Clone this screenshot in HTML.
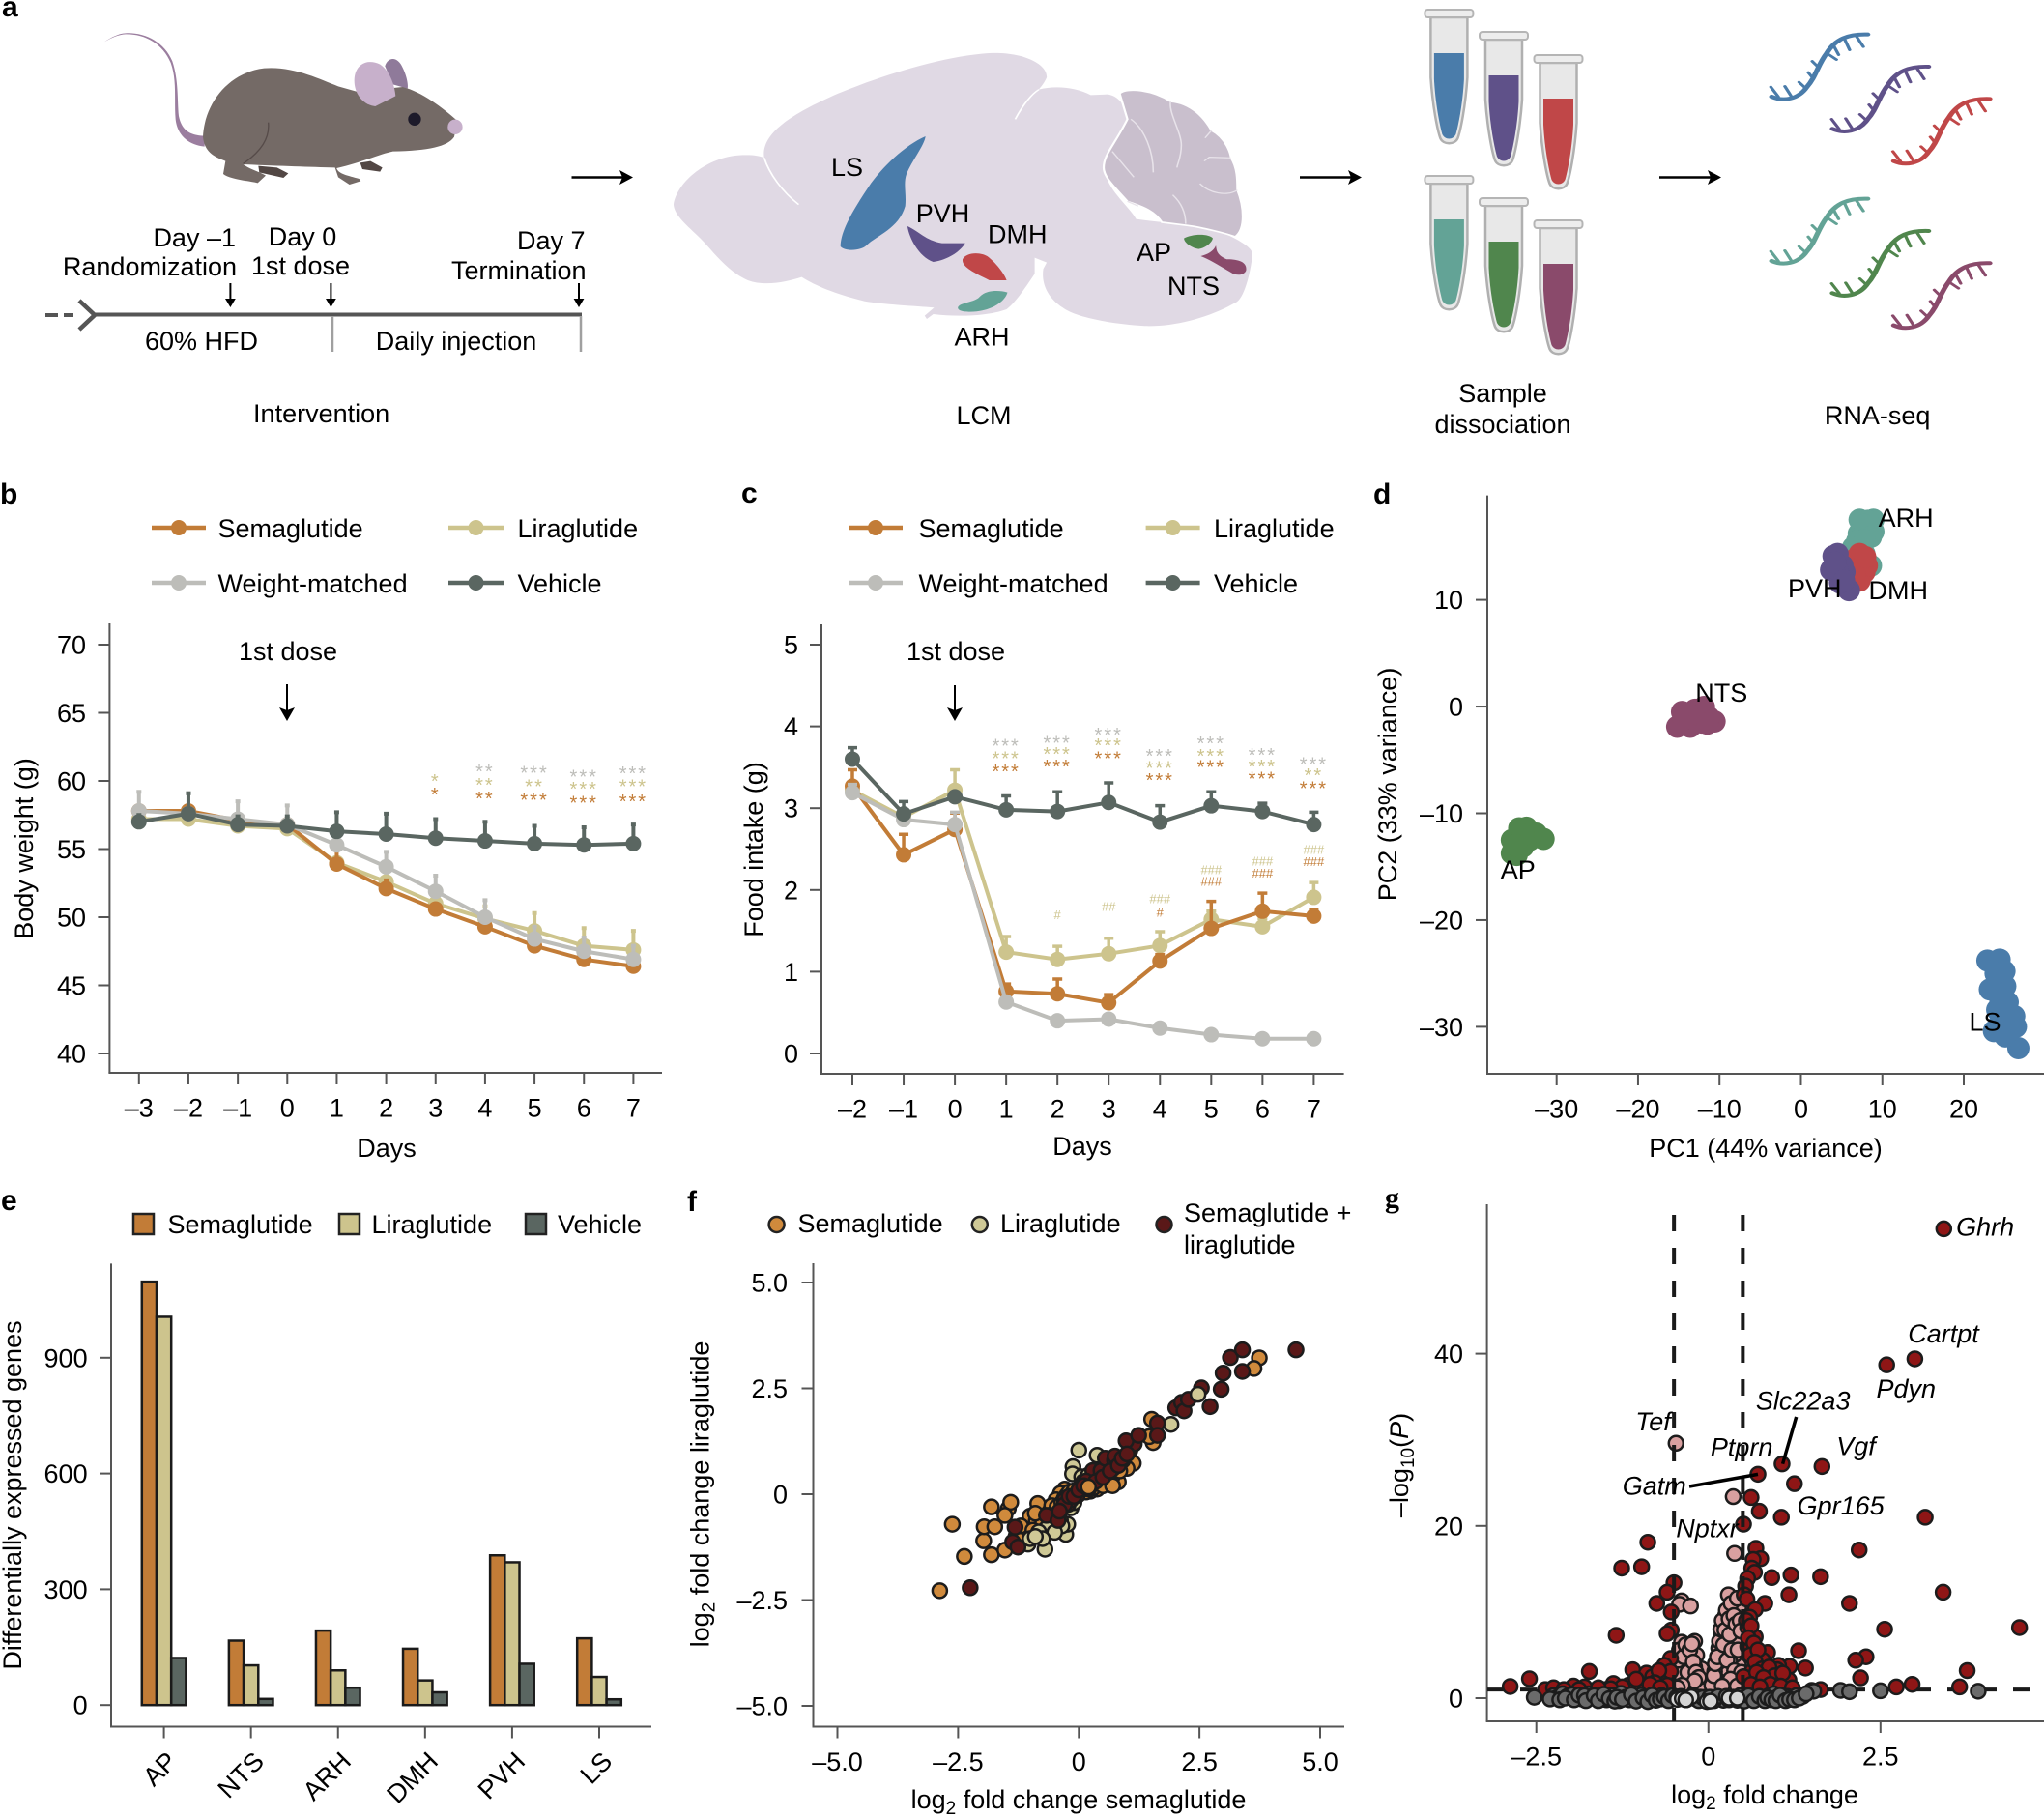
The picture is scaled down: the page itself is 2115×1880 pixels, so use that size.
<!DOCTYPE html>
<html lang="en">
<head>
<meta charset="utf-8">
<title>Semaglutide and liraglutide multi-panel figure</title>
<style>
html,body{margin:0;padding:0;background:#fff;width:2115px;height:1880px;overflow:hidden}
svg{display:block;font-family:"Liberation Sans",sans-serif;font-size:27px;fill:#000}
.pl{font-weight:bold;font-size:30px}
</style>
</head>
<body>
<svg id="figure" xmlns="http://www.w3.org/2000/svg" width="2115" height="1880" viewBox="0 0 2115 1880">
<defs>
  <g id="tube">
    <path d="M-19,8 L-19,70 C-17,100 -12,125 -9,133 C-6,140 6,140 9,133 C12,125 17,100 19,70 L19,8Z" fill="#E8E8E8" stroke="#B0B0B0" stroke-width="2.5"/>
    <path d="M-15.5,45 L15.5,45 L15.5,72 C14,100 9,122 7,129 C4,135 -4,135 -7,129 C-9,122 -14,100 -15.5,72Z" fill="currentColor"/>
    <rect x="-25" y="0" width="50" height="8" rx="3" fill="#EDEDED" stroke="#B5B5B5" stroke-width="2"/>
  </g>
  <g id="rna" fill="none" stroke="currentColor" stroke-linecap="round">
    <path stroke-width="12" d="M950,300 C975,315 1010,310 1030,270 C1050,240 1055,200 1075,165 C1095,120 1125,105 1168,107"/>
    <path stroke-width="7.5" d="M965,300L948,270M995,300L980,268M1028,275L1012,255M1045,245L1033,225M1057,210L1042,190M1075,165L1097,185M1090,140L1102,170M1115,120L1127,155M1140,108L1158,145"/>
  </g>
</defs>

<!-- panel a -->
<text class="pl" x="2" y="17">a</text>
<g transform="translate(130,0) scale(0.3333)">
  <path fill="#9B7E9F" d="M-66,130 C-40,112 -15,103 0,103 C60,100 120,130 145,190 C165,250 160,310 165,360 C175,410 205,420 245,422 L245,455 C195,450 160,420 155,370 C150,310 160,250 140,195 C115,135 60,105 0,106 C-15,106 -40,114 -66,130Z"/>
  <path fill="#8F7A9A" d="M805,205 C815,175 845,175 860,210 C875,240 878,270 875,275 L830,262Z"/>
  <path fill="#524744" d="M412,515 L470,520 L505,538 L490,552 L415,535Z M728,505 L760,500 L797,520 L790,533 L735,525Z"/>
  <path fill="#746A66" d="M240,425 C245,320 320,225 430,212 C520,205 600,245 660,268 L720,285 L860,270 C920,285 985,335 1030,375 L1020,425 C1000,455 940,468 830,470 C790,478 730,505 655,522 C660,540 690,545 725,555 L730,562 L695,573 L660,550 L650,520 C570,518 480,515 365,510 C385,525 410,530 435,545 L410,568 C370,560 320,555 303,540 L310,500 C270,485 245,470 240,425Z"/>
  <path fill="none" stroke="#564B49" stroke-width="4" d="M443,380 C448,430 420,470 365,508"/>
  <path fill="#C7B0CB" d="M710,250 C710,200 750,180 790,200 C825,225 835,270 838,298 L775,330 C735,325 710,290 710,250Z"/>
  <circle cx="897" cy="370" r="20" fill="#1D1A2A"/>
  <circle cx="1023" cy="394" r="23" fill="#C7B0CB"/>
</g>
<g fill="none">
  <path d="M47,326H76" stroke="#555" stroke-width="4" stroke-dasharray="13 6"/>
  <path d="M82,311L98,326L82,341" stroke="#555" stroke-width="4.5"/>
  <path d="M98,325.500H602" stroke="#555" stroke-width="4"/>
  <path d="M344,327V364M601,327V364" stroke="#A0A0A0" stroke-width="2.5"/>
</g>
<g stroke="#000" stroke-width="2" fill="#000">
  <path d="M238.400,293V312" fill="none"/><path stroke="none" d="M233,309L238.400,318L243.800,309Z"/>
  <path d="M342.400,293V312" fill="none"/><path stroke="none" d="M337,309L342.400,318L347.800,309Z"/>
  <path d="M599,293V312" fill="none"/><path stroke="none" d="M593.600,309L599,318L604.400,309Z"/>
</g>
<text x="244" y="255" text-anchor="end">Day –1</text>
<text x="245" y="285" text-anchor="end">Randomization</text>
<text x="313" y="254" text-anchor="middle">Day 0</text>
<text x="311" y="284" text-anchor="middle">1st dose</text>
<text x="605.500" y="258" text-anchor="end">Day 7</text>
<text x="606.500" y="289" text-anchor="end">Termination</text>
<text x="208.500" y="362" text-anchor="middle">60% HFD</text>
<text x="472" y="362" text-anchor="middle">Daily injection</text>
<text x="332.600" y="437" text-anchor="middle">Intervention</text>

<g>
  <path d="M591.500,183.500H645" stroke="#000" stroke-width="2.5"/><path d="M641,176L655,183.500L641,191L644,183.500Z"/>
  <path d="M1345,183.500H1399" stroke="#000" stroke-width="2.5"/><path d="M1395,176L1409,183.500L1395,191L1398,183.500Z"/>
  <path d="M1717,183.500H1771" stroke="#000" stroke-width="2.5"/><path d="M1767,176L1781,183.500L1767,191L1770,183.500Z"/>
</g>

<g transform="translate(680,0) scale(0.4464,0.3333)">
  <path fill="#E0D9E4" d="M38,635 C45,570 110,490 190,482 C215,480 235,482 248,490 C240,420 300,360 420,290 C520,235 660,175 770,165 C850,160 905,200 903,240 C895,265 885,275 885,278 C920,265 970,270 1005,295 L1045,293 C1075,300 1090,340 1092,380 C1090,430 1040,500 1040,540 C1045,590 1100,650 1110,680 C1160,690 1260,700 1300,715 C1340,740 1380,765 1380,790 C1375,850 1360,930 1340,940 C1280,985 1200,1015 1130,1012 C1050,1005 970,985 940,955 C905,925 890,880 895,835 L903,815 L875,800 L875,850 C850,900 830,940 810,960 C770,980 700,985 640,975 L625,990 L620,980 L642,955 C600,950 520,945 480,935 C420,915 370,890 335,860 C300,875 250,890 210,870 C160,840 130,780 100,740 C70,700 40,670 38,635Z"/>
  <path fill="none" stroke="#fff" stroke-width="4" d="M248,490 C260,540 290,595 328,635 M830,370 C850,320 870,290 885,278"/>
  <path fill="#C9BFCD" stroke="#fff" stroke-width="5" d="M1072,290 C1090,270 1150,280 1190,315 C1240,320 1270,370 1285,405 C1320,430 1330,480 1330,490 C1345,520 1345,560 1345,590 C1360,640 1365,710 1340,735 C1320,725 1260,705 1230,700 L1170,690 C1150,650 1120,640 1090,625 C1060,580 1035,550 1035,520 C1035,480 1060,450 1090,370Z"/>
  <path fill="none" stroke="#E8E3EA" stroke-width="3.500" d="M1098,370 C1130,400 1150,470 1150,535 M1190,315 C1185,350 1215,410 1215,450 C1215,490 1205,510 1205,520 M1285,405 L1270,428 M1330,490 L1280,488 L1268,500 M1258,570 C1280,600 1320,610 1345,590 M1055,470 L1105,550 M1195,605 C1215,630 1225,660 1225,695 M1090,625 L1115,640"/>
  <path fill="#4A7CAA" d="M622,423 C575,450 520,520 490,580 C450,660 425,720 425,765 C435,780 470,780 485,762 C510,730 560,710 575,640 C578,600 570,570 578,540 C590,500 620,450 622,423Z"/>
  <path fill="#5F5189" d="M580,702 C610,720 620,745 660,755 L714,755 C705,775 680,805 640,813 C610,800 585,745 580,702Z"/>
  <path fill="#C04748" d="M708,805 C715,785 745,780 765,795 C785,815 805,850 810,870 L770,870 C740,850 705,830 708,805Z"/>
  <path fill="#63A396" d="M697,955 C700,940 730,940 745,925 C760,900 790,900 812,908 C805,940 770,968 725,968 C710,968 697,965 697,955Z"/>
  <path fill="#50864D" d="M1221,740 C1240,725 1280,725 1288,740 C1285,755 1270,770 1255,773 C1240,770 1222,755 1221,740Z"/>
  <path fill="#8A4A6B" d="M1295,762 C1297,775 1295,790 1320,805 C1350,805 1368,815 1365,840 C1360,855 1345,855 1335,850 C1310,830 1280,805 1260,795 C1275,790 1290,780 1295,762Z"/>
</g>
<text x="860" y="182">LS</text>
<text x="947.700" y="230">PVH</text>
<text x="1022" y="251.700">DMH</text>
<text x="1176" y="270">AP</text>
<text x="1208" y="305">NTS</text>
<text x="987.500" y="357.700">ARH</text>
<text x="989.500" y="439">LCM</text>

<use href="#tube" transform="translate(1499.400,10)" color="#4A7CAA"/>
<use href="#tube" transform="translate(1556,33)" color="#5F5189"/>
<use href="#tube" transform="translate(1612.500,57)" color="#C04748"/>
<use href="#tube" transform="translate(1499.400,182)" color="#63A396"/>
<use href="#tube" transform="translate(1556,205)" color="#50864D"/>
<use href="#tube" transform="translate(1612.500,228)" color="#8A4A6B"/>
<text x="1555" y="416" text-anchor="middle">Sample</text>
<text x="1555" y="448" text-anchor="middle">dissociation</text>

<g transform="translate(1400,0) scale(0.456,0.3333)">
  <use href="#rna" color="#4A7CAA"/>
  <use href="#rna" transform="translate(138,100)" color="#5F5189"/>
  <use href="#rna" transform="translate(277,200)" color="#C04748"/>
  <use href="#rna" transform="translate(0,510)" color="#63A396"/>
  <use href="#rna" transform="translate(138,610)" color="#50864D"/>
  <use href="#rna" transform="translate(277,710)" color="#8A4A6B"/>
</g>
<text x="1942.600" y="439" text-anchor="middle">RNA-seq</text>

<!-- panel labels -->
<text class="pl" x="0" y="521">b</text>
<text class="pl" x="767" y="520">c</text>
<text class="pl" x="1421" y="521">d</text>
<text class="pl" x="1" y="1252">e</text>
<text class="pl" x="711" y="1253">f</text>
<text class="pl" x="1433" y="1249" style="font-family:'Liberation Serif',serif">g</text>

<!-- fixed chart titles -->
<text x="400" y="1197" text-anchor="middle">Days</text>
<text transform="translate(34,878) rotate(-90)" text-anchor="middle">Body weight (g)</text>
<text x="298" y="683" text-anchor="middle">1st dose</text>
<path d="M297,708V735" stroke="#000" stroke-width="2"/>
<path d="M289,732L297,746L305,732L297,735Z"/>

<text x="1120" y="1195" text-anchor="middle">Days</text>
<text transform="translate(789,879) rotate(-90)" text-anchor="middle">Food intake (g)</text>
<text x="989" y="683" text-anchor="middle">1st dose</text>
<path d="M988,709V735" stroke="#000" stroke-width="2"/>
<path d="M980,732L988,746L996,732L988,735Z"/>

<text x="1827" y="1197" text-anchor="middle">PC1 (44% variance)</text>
<text transform="translate(1445,811.500) rotate(-90)" text-anchor="middle">PC2 (33% variance)</text>

<text transform="translate(22,1547) rotate(-90)" text-anchor="middle">Differentially expressed genes</text>

<text x="1116" y="1871" text-anchor="middle">log<tspan font-size="19" dy="6">2</tspan><tspan dy="-6"> fold change semaglutide</tspan></text>
<text transform="translate(733.500,1546) rotate(-90)" text-anchor="middle">log<tspan font-size="19" dy="6">2</tspan><tspan dy="-6"> fold change liraglutide</tspan></text>
<text x="825.500" y="1275">Semaglutide</text>
<text x="1035" y="1275">Liraglutide</text>
<text x="1225" y="1264">Semaglutide +</text>
<text x="1225" y="1297">liraglutide</text>
<circle cx="803.600" cy="1267" r="8" fill="#D08A3C" stroke="#222" stroke-width="2.500"/>
<circle cx="1013.800" cy="1267" r="8" fill="#CFC996" stroke="#222" stroke-width="2.500"/>
<circle cx="1204.500" cy="1267" r="8" fill="#5A1818" stroke="#222" stroke-width="2.500"/>

<text x="1826" y="1866" text-anchor="middle">log<tspan font-size="19" dy="6">2</tspan><tspan dy="-6"> fold change</tspan></text>
<text transform="translate(1457,1516) rotate(-90)" text-anchor="middle">–log<tspan font-size="19" dy="6">10</tspan><tspan dy="-6">(</tspan><tspan font-style="italic">P</tspan>)</text>

<g id="charts"></g>
</svg>

<script>
// ---------- panel b data ----------
const bDays = [-3,-2,-1,0,1,2,3,4,5,6,7];
const bSemaglutide = [57.8,57.8,57.1,56.8,53.9,52.1,50.6,49.3,47.9,46.9,46.4];
const bLiraglutide = [57.2,57.2,56.7,56.5,54.0,52.6,51.0,49.9,49.0,47.9,47.6];
const bWeightMatched = [57.8,57.6,57.2,56.8,55.3,53.7,51.9,50.0,48.4,47.5,46.9];
const bVehicle = [57.0,57.6,56.8,56.7,56.3,56.1,55.8,55.6,55.4,55.3,55.4];
const bSemaglutideErr = [0.3,0.3,0.2,0.2,1.0,0.6,0.3,0.3,0.3,0.3,0.3];
const bLiraglutideErr = [0.5,0.5,0.5,0.5,0.3,0.8,0.9,0.9,1.3,1.3,1.4];
const bWeightMatchedErr = [1.4,1.5,1.3,1.4,0.4,1.1,1.15,1.25,0.9,1.0,1.0];
const bVehicleErr = [0.5,1.5,0.6,0.7,1.4,1.5,1.4,1.4,1.3,1.3,1.4];
const bXTicks = [-3,-2,-1,0,1,2,3,4,5,6,7];
const bXLabels = ['–3','–2','–1','0','1','2','3','4','5','6','7'];
const bYTicks = [40,45,50,55,60,65,70];
const bYLabels = ['40','45','50','55','60','65','70'];
const bSigDays = [3,4,5,6,7];
const bSigWeightCounts = [0,2,3,3,3];
const bSigWeightLevels = [0,61.0,60.9,60.6,60.85];
const bSigLiraCounts = [1,2,2,3,3];
const bSigLiraLevels = [60.3,60.0,59.9,59.7,59.9];
const bSigSemaCounts = [1,2,3,3,3];
const bSigSemaLevels = [59.3,59.0,58.9,58.7,58.8];

// ---------- panel c data ----------
const cDays = [-2,-1,0,1,2,3,4,5,6,7];
const cSemaglutide = [3.27,2.43,2.74,0.76,0.73,0.62,1.13,1.53,1.74,1.68];
const cLiraglutide = [3.22,2.89,3.22,1.24,1.15,1.22,1.32,1.64,1.55,1.91];
const cWeightMatched = [3.19,2.86,2.80,0.63,0.40,0.42,0.31,0.23,0.18,0.18];
const cVehicle = [3.60,2.93,3.14,2.98,2.96,3.07,2.83,3.03,2.96,2.80];
const cSemaglutideErr = [0.20,0.25,0.20,0.09,0.18,0.10,0.08,0.33,0.22,0.08];
const cLiraglutideErr = [0.05,0.05,0.25,0.19,0.16,0.19,0.17,0.10,0.10,0.18];
const cWeightMatchedErr = [0.10,0.03,0.15,0.03,0.03,0.03,0.03,0.03,0.03,0.03];
const cVehicleErr = [0.14,0.15,0.05,0.17,0.24,0.24,0.20,0.17,0.10,0.15];
const cXTicks = [-2,-1,0,1,2,3,4,5,6,7];
const cXLabels = ['–2','–1','0','1','2','3','4','5','6','7'];
const cYTicks = [0,1,2,3,4,5];
const cYLabels = ['0','1','2','3','4','5'];
const cSigDays = [1,2,3,4,5,6,7];
const cSigWeightCounts = [3,3,3,3,3,3,3];
const cSigWeightLevels = [3.81,3.85,3.95,3.69,3.84,3.70,3.59];
const cSigLiraCounts = [3,3,3,3,3,3,2];
const cSigLiraLevels = [3.66,3.71,3.82,3.54,3.69,3.56,3.45];
const cSigSemaCounts = [3,3,3,3,3,3,3];
const cSigSemaLevels = [3.50,3.56,3.66,3.39,3.55,3.41,3.29];
const cHashDays = [2,3,4,5,6,7];
const cHashLiraCounts = [1,2,3,3,3,3];
const cHashLiraLevels = [1.70,1.80,1.90,2.25,2.36,2.50];
const cHashSemaCounts = [0,0,1,3,3,3];
const cHashSemaLevels = [0,0,1.73,2.11,2.21,2.35];

// ---------- panel d data ----------
const dXTicks = [-30,-20,-10,0,10,20];
const dXLabels = ['–30','–20','–10','0','10','20'];
const dYTicks = [-30,-20,-10,0,10];
const dYLabels = ['–30','–20','–10','0','10'];
const dArh = [[7.2,17.5],[8.9,17.5],[8.9,16.4],[7.1,16.2],[6.4,14.9],[8.6,13.2],[7.8,14.3],[8.0,16.8],[7.5,15.5],[8.2,17.4],[7.8,17.0],[8.6,15.9],[6.9,15.5],[7.8,15.6]];
const dDmh = [[7.2,14.3],[7.8,12.6],[7.2,11.8],[6.4,13.7],[8.1,13.2],[7.4,13.2],[6.6,12.4],[7.9,14.0]];
const dPvh = [[4.0,14.1],[3.7,12.8],[5.35,12.6],[5.9,10.9],[4.8,11.6],[5.1,13.2],[4.5,14.3],[4.5,12.8],[4.2,13.5],[5.3,11.8]];
const dNts = [[-15.2,-1.9],[-13.6,-1.9],[-14.6,-0.5],[-11.9,-0.04],[-10.6,-1.4],[-12.2,-1.5],[-13.8,-1.1],[-13.0,-0.3],[-12.9,-1.3],[-11.3,-1.0],[-14.4,-1.2],[-12.4,-0.8],[-11.5,-1.6]];
const dAp = [[-35.5,-12.5],[-34.6,-11.4],[-33.7,-11.35],[-32.5,-11.9],[-31.6,-12.4],[-35.5,-13.75],[-34.1,-13.1],[-33.3,-12.5],[-34.5,-12.5],[-34.9,-13.9],[-33.1,-11.8],[-34.1,-12.0],[-35.0,-13.0]];
const dLs = [[22.9,-23.8],[24.4,-23.7],[24.5,-25],[25.1,-26.2],[23.2,-26.5],[25.4,-27.7],[26.2,-29],[26.4,-30],[26.7,-32],[23.7,-30.4],[25.1,-30.9],[24.8,-28.7],[24.5,-27.5],[24.2,-26],[24.3,-29.8],[23.9,-25],[25.3,-29],[25.8,-30.3],[25,-24.8],[24.1,-28.4]];

// ---------- panel e data ----------
const eCategories = ['AP','NTS','ARH','DMH','PVH','LS'];
const eSemaglutide = [1097,167,193,146,388,173];
const eLiraglutide = [1006,103,90,64,370,73];
const eVehicle = [122,16,45,33,107,15];
const eYTicks = [0,300,600,900];
const eYLabels = ['0','300','600','900'];

// ---------- panel f data ----------
const fXTicks = [-5,-2.5,0,2.5,5];
const fXLabels = ['–5.0','–2.5','0','2.5','5.0'];
const fYTicks = [-5,-2.5,0,2.5,5];
const fYLabels = ['–5.0','–2.5','0','2.5','5.0'];
const fSemaglutide = [[-2.88,-2.28],[-2.62,-0.71],[-2.37,-1.47],[-1.97,-1.10],[-1.96,-0.77],[-1.74,-0.77],[-1.81,-1.43],[-1.81,-0.30],[-1.46,-0.34],[-1.41,-0.19],[-1.53,-0.50],[-1.53,-1.32],[-1.10,-0.76],[-1.01,-0.52],[-0.85,-0.22],[-0.88,-0.63],[-1.19,-0.96],[3.74,3.22],[3.63,2.97],[1.54,1.22],[1.46,1.36],[1.51,1.77],[1.13,0.73],[1.00,0.61],[0.82,0.29],[-0.29,0.12],[-0.38,0.02],[-0.25,-0.03],[-0.47,-0.13],[-0.56,-0.27],[0.38,0.12],[0.24,0.07],[0.60,0.26],[0.69,0.41],[-0.45,-0.3],[-0.35,-0.2],[-0.3,-0.1],[-0.2,0.05],[-0.1,0.08],[0.0,0.0],[0.1,0.1],[0.15,0.05],[0.3,0.15],[0.42,0.25],[0.5,0.2],[0.7,0.2],[0.85,0.55],[0.75,0.65],[-0.6,-0.5],[-0.75,-0.7],[-1.15,-0.9],[-1.3,-1.0],[-1.2,-0.75],[-0.95,-0.85],[-0.9,-0.45]];
const fLiraglutide = [[0,1.04],[-0.12,0.65],[-0.13,0.48],[0.38,0.92],[0.06,0.41],[0.04,0.17],[0.91,0.80],[1.91,1.65],[-0.70,-1.30],[-1.05,-1.18],[-0.27,-0.95],[-0.23,-0.71],[-0.67,-0.81],[-0.83,-0.89],[-1.01,-1.05],[-0.16,-0.32],[-0.38,-0.62],[0.60,0.51],[-0.35,-0.75],[-0.5,-0.9],[-0.1,-0.2],[0.1,0.3],[0.2,0.45],[0.7,0.6],[-0.75,-1.05],[-0.9,-1.0]];
const fCombined = [[-2.25,-2.21],[-1.37,-1.13],[-1.32,-0.78],[-1.26,-1.25],[-0.67,-0.50],[-0.43,-0.62],[-0.22,-0.24],[-0.16,-0.13],[0.29,0.56],[0.46,0.56],[0.55,0.85],[0.74,0.80],[0.75,0.90],[0.24,0.26],[1.06,1.04],[1.15,1.19],[0.98,1.26],[1.24,1.39],[1.63,1.68],[1.63,1.39],[2.01,2.04],[2.13,2.17],[2.18,1.97],[2.27,2.24],[2.54,2.51],[2.72,2.07],[2.95,2.48],[2.99,2.86],[3.14,3.23],[3.39,3.41],[3.39,2.90],[4.50,3.41],[0.15,0.31],[-0.03,-0.03],[-0.29,-0.13],[-0.3,-0.25],[-0.2,-0.05],[-0.1,-0.05],[0.0,0.1],[0.1,0.2],[0.2,0.12],[0.35,0.3],[0.5,0.4],[0.65,0.55],[0.82,0.68],[0.9,0.85],[1.0,0.95],[-0.4,-0.4]];
const fTopPoints = [[2.47,2.36,'#CFC996'],[0.20,0.17,'#D08A3C']];

// ---------- panel g data ----------
const gXTicks = [-2.5,0,2.5];
const gXLabels = ['–2.5','0','2.5'];
const gYTicks = [0,20,40];
const gYLabels = ['0','20','40'];
const gThresholdX = [-0.5,0.5];
const gThresholdY = [1];
const gPink = [[-0.47,29.6],[0.36,23.4],[0.38,16.8],[0.29,12.0],[-0.39,11.3],[-0.42,10.9],[-0.26,10.7],[0.35,10.8],[0.25,9.6],[0.44,10.5],[0.28,8.4],[0.36,8.1],[0.19,7.4],[0.44,7.2],[0.33,6.7],[-0.39,6.5],[-0.2,6.6],[-0.39,5.5],[-0.17,5.0],[-0.28,4.6],[0.25,5.3],[0.15,5.8],[0.44,3.8],[0.19,3.8],[0.28,2.9],[-0.26,2.5],[-0.42,2.2],[-0.10,3.4],[0.41,6.2],[0.38,5.0],[0.09,3.1],[0.31,4.3],[-0.36,3.6],[-0.2,3.6],[0.47,1.9],[0.12,2.2],[-0.1,1.7],[-0.3,1.5],[0.22,1.6],[0.35,1.2],[-0.46,3.0],[-0.44,4.4],[-0.42,5.6],[-0.36,4.8],[-0.33,6.2],[-0.3,3.0],[-0.27,5.6],[-0.24,6.3],[-0.22,4.2],[-0.18,3.0],[-0.14,2.4],[-0.2,2.0],[-0.38,1.5],[-0.45,1.2],[0.05,1.5],[0.08,2.6],[0.1,4.0],[0.13,4.8],[0.16,6.6],[0.18,8.0],[0.2,9.0],[0.22,6.2],[0.24,7.9],[0.26,10.2],[0.27,4.4],[0.3,9.2],[0.31,7.4],[0.33,11.0],[0.34,5.6],[0.37,9.6],[0.38,3.2],[0.4,8.6],[0.42,11.6],[0.43,5.6],[0.46,9.0],[0.47,7.8],[0.48,3.0],[0.32,2.2],[0.2,1.4],[0.42,1.4]];
const gRed = [[3.42,54.5],[3.00,39.4],[2.59,38.7],[1.07,27.2],[1.65,26.9],[0.72,26.0],[1.25,24.9],[0.62,23.3],[0.74,21.7],[1.06,21.0],[3.15,21.0],[0.51,20.2],[2.19,17.2],[0.69,17.4],[0.76,16.2],[0.65,16.1],[0.63,15.1],[0.67,14.6],[1.20,14.3],[1.63,14.1],[0.92,14.0],[0.57,13.9],[1.17,12.0],[0.54,13.0],[0.52,12.0],[0.56,11.5],[3.41,12.3],[2.05,11.0],[0.82,11.0],[0.68,10.3],[0.60,9.4],[0.57,8.2],[2.56,8.0],[4.52,8.2],[0.68,7.1],[0.57,6.0],[1.31,5.5],[0.86,5.3],[2.29,4.8],[2.14,4.4],[0.79,4.4],[1.41,3.5],[1.18,3.7],[1.02,3.8],[1.0,3.3],[0.63,3.1],[0.51,2.5],[2.21,2.35],[1.17,2.1],[0.73,1.9],[0.86,2.2],[3.76,3.2],[2.96,1.6],[2.73,1.3],[3.65,1.3],[1.63,1.0],[0.55,9.0],[0.62,8.4],[0.58,7.0],[0.66,6.4],[0.6,5.0],[0.72,5.6],[0.68,4.2],[0.78,3.4],[0.88,3.6],[0.96,2.6],[0.7,3.0],[1.08,2.9],[0.8,2.4],[0.62,1.6],[0.9,1.6],[1.05,1.4],[1.22,1.2],[0.75,1.3],[-0.88,18.1],[-1.26,15.1],[-0.97,15.25],[-0.50,13.4],[-0.60,12.3],[-0.75,11.0],[-0.54,10.0],[-0.54,7.9],[-0.60,7.5],[-1.34,7.3],[-0.55,4.6],[-0.64,3.8],[-1.10,3.3],[-1.73,3.1],[-0.90,2.9],[-0.81,2.5],[-0.65,2.2],[-2.60,2.25],[-2.88,1.35],[-2.37,1.0],[-1.50,1.0],[-1.38,1.7],[-1.96,1.4],[-1.80,1.3],[-2.25,1.2],[-1.16,1.5],[-0.97,1.4],[-0.55,3.1],[-0.72,3.2],[-0.78,1.8],[-0.85,1.6],[-1.05,2.2],[-1.25,1.3],[-1.42,1.1],[-1.6,1.2],[-1.88,1.0],[-2.1,1.0],[-0.6,1.5],[-0.7,1.2]];
const gGrey = [[-2.53,0.1],[-2.25,0.3],[-2.2,0.05],[-2.12,0.5],[-2.05,0.2],[-1.98,0.4],[-1.9,0.1],[-1.84,-0.1],[-1.74,0.5],[-1.7,0.2],[-1.62,0],[-1.55,0.15],[-1.48,-0.2],[-1.4,0.3],[-1.3,-0.3],[-1.27,0.55],[-1.2,0.1],[-1.15,-0.2],[-1.08,0.2],[-1.03,0.2],[-0.98,0.35],[-0.92,-0.1],[-0.85,0],[-0.8,0.2],[-0.73,0.1],[-0.68,0.3],[-0.62,-0.1],[-0.56,0.15],[-0.5,-0.05],[-0.18,-0.1],[-0.12,0.1],[-0.05,-0.3],[0.1,-0.05],[0.18,0.05],[0.22,-0.25],[0.48,0.1],[0.55,-0.1],[0.62,0.1],[0.7,0],[0.78,-0.1],[0.88,0.3],[0.95,0.5],[1.0,0.1],[1.08,-0.1],[1.15,0.2],[1.22,0.1],[1.28,0.3],[1.37,0.2],[1.5,0.9],[1.53,0.8],[1.92,0.9],[2.05,0.75],[2.5,0.85],[3.92,0.8],[-2.3,-0.1],[-2.16,-0.2],[-2.08,0.0],[-1.95,-0.2],[-1.88,0.35],[-1.8,0.3],[-1.78,-0.3],[-1.66,0.3],[-1.6,-0.3],[-1.52,0.45],[-1.44,-0.05],[-1.36,-0.35],[-1.33,0.1],[-1.25,-0.15],[-1.12,0.4],[-1.05,-0.35],[-0.95,0.05],[-0.88,-0.4],[-0.82,0.35],[-0.76,-0.25],[-0.7,-0.1],[-0.64,0.15],[-0.58,-0.3],[-0.52,0.3],[-0.46,0.1],[-0.4,0.2],[-0.32,-0.2],[-0.22,0.3],[-0.14,-0.3],[-0.08,0.05],[0.02,0.1],[0.08,-0.3],[0.14,0.2],[0.26,0.2],[0.3,-0.2],[0.42,-0.25],[0.46,0.3],[0.52,-0.35],[0.58,0.3],[0.66,-0.3],[0.74,0.2],[0.82,-0.3],[0.86,0.05],[0.92,-0.2],[0.98,-0.3],[1.04,0.35],[1.12,-0.3],[1.18,-0.15],[1.25,-0.2],[1.32,0],[1.42,0.5]];
const gLight = [[-0.45,-0.15],[-0.38,-0.05],[-0.28,0.05],[-0.25,0.15],[-0.02,-0.4],[0.03,-0.35],[0.33,-0.1],[0.38,-0.1],[0.36,0.1],[-0.33,-0.2],[0.3,0.0],[0.42,0.0]];
const gGeneNames = ['Ghrh','Cartpt','Pdyn','Slc22a3','Vgf','Tef','Ptprn','Gatm','Gpr165','Nptxr'];
const gGeneLogFc = [3.60,2.90,2.44,0.69,1.86,-1.06,0.03,-1.25,1.29,-0.47];
const gGeneLogP = [53.7,41.3,34.9,33.5,28.2,31.1,28.1,23.6,21.3,18.7];

// ---------- drawing ----------
const NS = 'http://www.w3.org/2000/svg';
const root = document.getElementById('charts');
const COL = {sema:'#C27C37', lira:'#CDC48D', wm:'#BDBDB9', veh:'#5A6661', ink:'#555'};

function mk(tag, attrs, parent, text){
  const e = document.createElementNS(NS, tag);
  for (const k in attrs) e.setAttribute(k, attrs[k]);
  if (text !== undefined) e.textContent = text;
  (parent || root).appendChild(e);
  return e;
}
function lin(d0, d1, r0, r1){ return v => r0 + (v - d0) * (r1 - r0) / (d1 - d0); }

function drawAxes(prefix, sx, sy, frame, xTicks, xLabels, yTicks, yLabels, labelRight){
  const g = mk('g', {}, root);
  
  
  const ySpine = mk('path', {d:`M${frame.left},${frame.top}V${frame.bottom}`, stroke:COL.ink, 'stroke-width':2, fill:'none'}, g);
  
  
  const xSpine = mk('path', {d:`M${frame.left-1},${frame.bottom}H${frame.right}`, stroke:COL.ink, 'stroke-width':2, fill:'none'}, g);
  
  
  yTicks.forEach((v, i) => {
    const t = mk('path', {d:`M${frame.left-12},${sy(v)}H${frame.left}`, stroke:COL.ink, 'stroke-width':2}, g);
    
    
    const l = mk('text', {x:labelRight, y:sy(v)+9.5, 'text-anchor':'end'}, g, yLabels[i]);
    
    
  });
  xTicks.forEach((v, i) => {
    const t = mk('path', {d:`M${sx(v)},${frame.bottom}V${frame.bottom+12}`, stroke:COL.ink, 'stroke-width':2}, g);
    
    
    if (xLabels && xLabels[i] !== undefined) {
      const l = mk('text', {x:sx(v), y:frame.bottom+45.5, 'text-anchor':'middle'}, g, xLabels[i]);
      
      
    }
  });
}

function drawSeries(prefix, key, color, days, vals, errs, sx, sy, capHalf, barWidth){
  const g = mk('g', {}, root);
  
  
  days.forEach((d, i) => {
    const x = sx(d), y0 = sy(vals[i]), y1 = sy(vals[i] + errs[i]);
    const bar = mk('path', {d:`M${x},${y0}V${y1}M${x-capHalf},${y1}H${x+capHalf}`, stroke:color, 'stroke-width':barWidth, fill:'none'}, g);
    
    
  });
  const line = mk('polyline', {points:days.map((d, i) => sx(d) + ',' + sy(vals[i])).join(' '), fill:'none', stroke:color, 'stroke-width':4}, g);
  
  
  days.forEach((d, i) => {
    const c = mk('circle', {cx:sx(d), cy:sy(vals[i]), r:8, fill:color}, g);
    
    
  });
}

function drawMarks(prefix, kind, color, glyph, days, counts, levels, sx, sy, size, spacing, offset){
  days.forEach((d, i) => {
    if (!counts[i]) return;
    const t = mk('text', {x:sx(d), y:sy(levels[i])+offset, 'text-anchor':'middle', fill:color, style:`font-size:${size}px;letter-spacing:${spacing}px`}, root, glyph.repeat(counts[i]));
    
    
  });
}

function lineLegend(prefix, key, color, x0, x1, y, label, textX){
  const l = mk('path', {d:`M${x0},${y}H${x1}`, stroke:color, 'stroke-width':4.5}, root);
  
  
  const c = mk('circle', {cx:(x0+x1)/2, cy:y, r:8, fill:color}, root);
  
  
  const t = mk('text', {x:textX, y:y+10}, root, label);
  
  
}

// panel b
const bX = lin(-3, 7, 143.8, 655.4), bY = lin(40, 70, 1090, 667);
drawAxes('b', bX, bY, {left:113.4, top:645, bottom:1110, right:685}, bXTicks, bXLabels, bYTicks, bYLabels, 89);
drawSeries('b','liraglutide',COL.lira,bDays,bLiraglutide,bLiraglutideErr,bX,bY,2.5,4);
drawSeries('b','semaglutide',COL.sema,bDays,bSemaglutide,bSemaglutideErr,bX,bY,2.5,4);
drawSeries('b','weight-matched',COL.wm,bDays,bWeightMatched,bWeightMatchedErr,bX,bY,2.5,4);
drawSeries('b','vehicle',COL.veh,bDays,bVehicle,bVehicleErr,bX,bY,2.5,4);
drawMarks('b','weight-matched',COL.wm,'*',bSigDays,bSigWeightCounts,bSigWeightLevels,bX,bY,20,2,11);
drawMarks('b','liraglutide',COL.lira,'*',bSigDays,bSigLiraCounts,bSigLiraLevels,bX,bY,20,2,11);
drawMarks('b','semaglutide',COL.sema,'*',bSigDays,bSigSemaCounts,bSigSemaLevels,bX,bY,20,2,11);
lineLegend('b','semaglutide',COL.sema,157,213,546,'Semaglutide',225.5);
lineLegend('b','liraglutide',COL.lira,464,521,546,'Liraglutide',535.5);
lineLegend('b','weight-matched',COL.wm,157,213,603,'Weight-matched',225.5);
lineLegend('b','vehicle',COL.veh,464,521,603,'Vehicle',535.5);

// panel c
const cX = lin(-2, 7, 882, 1359.4), cY = lin(0, 5, 1090, 667);
drawAxes('c', cX, cY, {left:850, top:646, bottom:1111, right:1390.6}, cXTicks, cXLabels, cYTicks, cYLabels, 826);
drawSeries('c','liraglutide',COL.lira,cDays,cLiraglutide,cLiraglutideErr,cX,cY,5,3.5);
drawSeries('c','semaglutide',COL.sema,cDays,cSemaglutide,cSemaglutideErr,cX,cY,5,3.5);
drawSeries('c','weight-matched',COL.wm,cDays,cWeightMatched,cWeightMatchedErr,cX,cY,5,3.5);
drawSeries('c','vehicle',COL.veh,cDays,cVehicle,cVehicleErr,cX,cY,5,3.5);
drawMarks('c','weight-matched',COL.wm,'*',cSigDays,cSigWeightCounts,cSigWeightLevels,cX,cY,20,2,11);
drawMarks('c','liraglutide',COL.lira,'*',cSigDays,cSigLiraCounts,cSigLiraLevels,cX,cY,20,2,11);
drawMarks('c','semaglutide',COL.sema,'*',cSigDays,cSigSemaCounts,cSigSemaLevels,cX,cY,20,2,11);
drawMarks('c','hash-liraglutide',COL.lira,'#',cHashDays,cHashLiraCounts,cHashLiraLevels,cX,cY,13,0,5);
drawMarks('c','hash-semaglutide',COL.sema,'#',cHashDays,cHashSemaCounts,cHashSemaLevels,cX,cY,13,0,5);
lineLegend('c','semaglutide',COL.sema,878,934,546,'Semaglutide',950.5);
lineLegend('c','liraglutide',COL.lira,1185.6,1241.6,546,'Liraglutide',1256);
lineLegend('c','weight-matched',COL.wm,878,934,603,'Weight-matched',950.5);
lineLegend('c','vehicle',COL.veh,1185.6,1241.6,603,'Vehicle',1256);

// panel d
const dX = lin(-30, 20, 1610.7, 2032), dY = lin(-30, 10, 1062.4, 620.6);
drawAxes('d', dX, dY, {left:1539, top:512.6, bottom:1111, right:2115}, dXTicks, dXLabels, dYTicks, dYLabels, 1514);
function drawCluster(key, color, pts, label, lx, ly){
  pts.forEach(p => {
    const c = mk('circle', {cx:dX(p[0]), cy:dY(p[1]), r:11.5, fill:color}, root);
    
    
  });
  const t = mk('text', {x:lx, y:ly}, root, label);
  
  
}
drawCluster('arh','#63A396',dArh,'ARH',1943.6,545);
drawCluster('dmh','#C04748',dDmh,'DMH',1933.5,620);
drawCluster('pvh','#5F5189',dPvh,'PVH',1850,618);
drawCluster('nts','#8A4A6B',dNts,'NTS',1754.3,726);
drawCluster('ap','#50864D',dAp,'AP',1552.8,909);
drawCluster('ls','#4A7CAA',dLs,'LS',2037.5,1066.6);

// panel e
const eCat = lin(0, 5, 169.6, 620), eY = lin(0, 900, 1764.2, 1404.8);
const eTickIdx = eCategories.map((c, i) => i);
drawAxes('e', eCat, eY, {left:115, top:1307.4, bottom:1786.5, right:674}, eTickIdx, null, eYTicks, eYLabels, 90.6);
const barW = 15.2;
function drawBars(key, color, vals, slot){
  vals.forEach((v, i) => {
    const r = mk('rect', {x:eCat(i)-1.5*barW+slot*barW, y:eY(v), width:barW, height:eY(0)-eY(v), fill:color, stroke:'#1a1a1a', 'stroke-width':2.5}, root);
    
    
  });
}
drawBars('semaglutide',COL.sema,eSemaglutide,0);
drawBars('liraglutide',COL.lira,eLiraglutide,1);
drawBars('vehicle',COL.veh,eVehicle,2);
eCategories.forEach((c, i) => {
  const t = mk('text', {'text-anchor':'end', transform:`translate(${eCat(i)+15},1824) rotate(-45)`}, root, c);
  
  
});
function eLegend(key, color, x, label, tx){
  const r = mk('rect', {x:x, y:1256, width:21, height:21, fill:color, stroke:'#222', 'stroke-width':2.5}, root);
  
  
  const t = mk('text', {x:tx, y:1276}, root, label);
  
  
}
eLegend('semaglutide',COL.sema,138,'Semaglutide',173.5);
eLegend('liraglutide',COL.lira,351,'Liraglutide',384.5);
eLegend('vehicle',COL.veh,544,'Vehicle',577);

// panel f
const fX = lin(-5, 5, 866.5, 1366), fY = lin(-5, 5, 1765, 1327);
drawAxes('f', fX, fY, {left:841.5, top:1307, bottom:1786.5, right:1391}, fXTicks, fXLabels, fYTicks, fYLabels, 815);
function drawScatter(prefix, key, color, pts, sx, sy, r){
  pts.forEach(p => {
    const c = mk('circle', {cx:sx(p[0]), cy:sy(p[1]), r:r, fill:color, stroke:'#1c1c1c', 'stroke-width':2.5}, root);
    
    
  });
}
drawScatter('f','semaglutide','#D08A3C',fSemaglutide,fX,fY,7.5);
drawScatter('f','liraglutide','#CFC996',fLiraglutide,fX,fY,7.5);
drawScatter('f','combined','#5A1818',fCombined,fX,fY,7.5);
fTopPoints.forEach(p => {
  const c = mk('circle', {cx:fX(p[0]), cy:fY(p[1]), r:7.5, fill:p[2], stroke:'#1c1c1c', 'stroke-width':2.5}, root);
  
  
});

// panel g
const gX = lin(-2.5, 2.5, 1589.7, 1945.8), gY = lin(0, 40, 1757, 1400.6);
drawAxes('g', gX, gY, {left:1538.6, top:1246, bottom:1781, right:2115}, gXTicks, gXLabels, gYTicks, gYLabels, 1514);
gThresholdY.forEach(v => {
  const h = mk('path', {d:`M1539,${gY(v)}H2100`, stroke:'#1a1a1a', 'stroke-width':4, 'stroke-dasharray':'17 17', fill:'none'}, root);
  
  
});
drawScatter('g','pink','#D9A0A0',gPink,gX,gY,7.5);
drawScatter('g','red','#8F1616',gRed,gX,gY,7.5);
drawScatter('g','grey','#6B6B6B',gGrey,gX,gY,7.5);
drawScatter('g','light','#D5D5D5',gLight,gX,gY,7.5);
gThresholdX.forEach(v => {
  const l = mk('path', {d:`M${gX(v)},1257V1781`, stroke:'#1a1a1a', 'stroke-width':4, 'stroke-dasharray':'17 17', fill:'none'}, root);
  
  
});
const gatmLine = mk('path', {d:'M1748,1538L1819,1525.4', stroke:'#000', 'stroke-width':3.5}, root);


const slcLine = mk('path', {d:'M1858.7,1466L1844.6,1514.7', stroke:'#000', 'stroke-width':3.5}, root);


gGeneNames.forEach((name, i) => {
  const t = mk('text', {x:gX(gGeneLogFc[i]), y:gY(gGeneLogP[i]), 'font-style':'italic'}, root, name);
  
  
});
</script>
</body>
</html>
